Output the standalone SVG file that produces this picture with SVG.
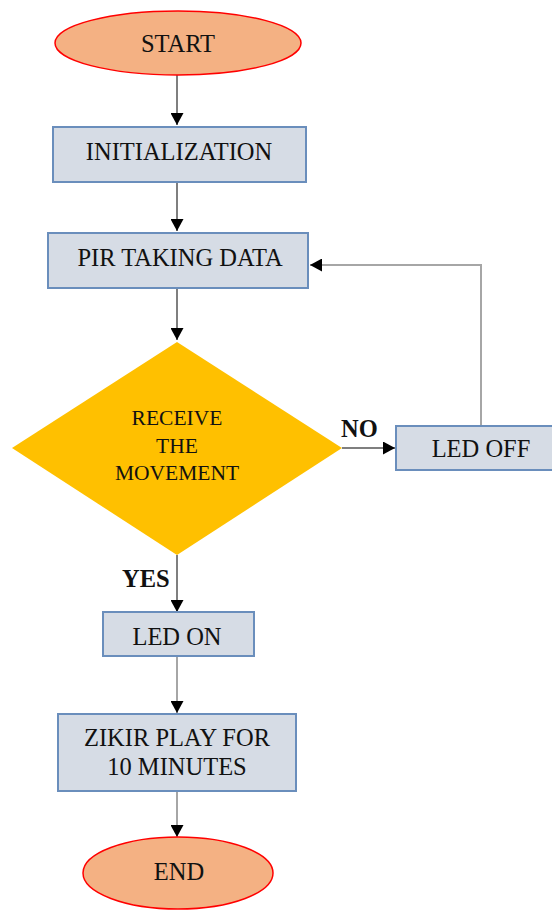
<svg xmlns="http://www.w3.org/2000/svg" width="552" height="911" viewBox="0 0 552 911">
<defs>
<marker id="ah" markerWidth="13" markerHeight="13" refX="12" refY="6.5" orient="auto" markerUnits="userSpaceOnUse">
<path d="M0,0 L12,6.5 L0,13 Z" fill="#000"/>
</marker>
<style>
.term{fill:#F4B183;stroke:#FF0000;stroke-width:1.5}
.proc{fill:#D6DCE5;stroke:#6A8EBC;stroke-width:2}
.dec{fill:#FFC000}
.t{font-family:"Liberation Serif","Times New Roman",serif;font-size:24.5px;fill:#111;text-anchor:middle}
.td{font-family:"Liberation Serif","Times New Roman",serif;font-size:21.5px;fill:#111;text-anchor:middle}
.lb{font-family:"Liberation Serif","Times New Roman",serif;font-size:24.5px;font-weight:bold;fill:#111}
.c1{fill:none;stroke:#555;stroke-width:1.5}
.c2{fill:none;stroke:#A6A6A6;stroke-width:2}
</style>
</defs>
<rect width="552" height="911" fill="#fff"/>
<g id="connectors">
<path class="c1" d="M177,75 V125" marker-end="url(#ah)"/>
<path class="c1" d="M177,182 V231" marker-end="url(#ah)"/>
<path class="c1" d="M177,288 V340" marker-end="url(#ah)"/>
<path class="c1" d="M342,448 H395" marker-end="url(#ah)"/>
<path class="c2" d="M481,425 V265 H310" marker-end="url(#ah)"/>
<path class="c1" d="M177,555 V612" marker-end="url(#ah)"/>
<path class="c2" d="M177,656 V713" marker-end="url(#ah)"/>
<path class="c2" d="M177,791 V837" marker-end="url(#ah)"/>
</g>
<g id="start">
<ellipse class="term" cx="178" cy="43" rx="123" ry="32"/>
<text class="t" x="178" y="52">START</text>
</g>
<g id="init">
<rect class="proc" x="53" y="127" width="253" height="55"/>
<text class="t" x="179" y="160">INITIALIZATION</text>
</g>
<g id="pir">
<rect class="proc" x="48" y="233" width="260" height="55"/>
<text class="t" x="180" y="266">PIR TAKING DATA</text>
</g>
<g id="decision">
<polygon class="dec" points="177,342 342,448 177,555 12,448"/>
<text class="td" x="177" y="425">RECEIVE</text>
<text class="td" x="177" y="453">THE</text>
<text class="td" x="177" y="480">MOVEMENT</text>
</g>
<g id="ledoff">
<rect class="proc" x="396" y="426" width="172" height="44"/>
<text class="t" x="481" y="457">LED OFF</text>
</g>
<g id="ledon">
<rect class="proc" x="103" y="612" width="151" height="44"/>
<text class="t" x="177" y="645">LED ON</text>
</g>
<g id="zikir">
<rect class="proc" x="58" y="714" width="238" height="77"/>
<text class="t" x="177" y="746">ZIKIR PLAY FOR</text>
<text class="t" x="177" y="775">10 MINUTES</text>
</g>
<g id="end">
<ellipse class="term" cx="178" cy="873" rx="95" ry="36"/>
<text class="t" x="179" y="880">END</text>
</g>
<g id="labels">
<text class="lb" x="341" y="437">NO</text>
<text class="lb" x="122" y="587">YES</text>
</g>
</svg>
